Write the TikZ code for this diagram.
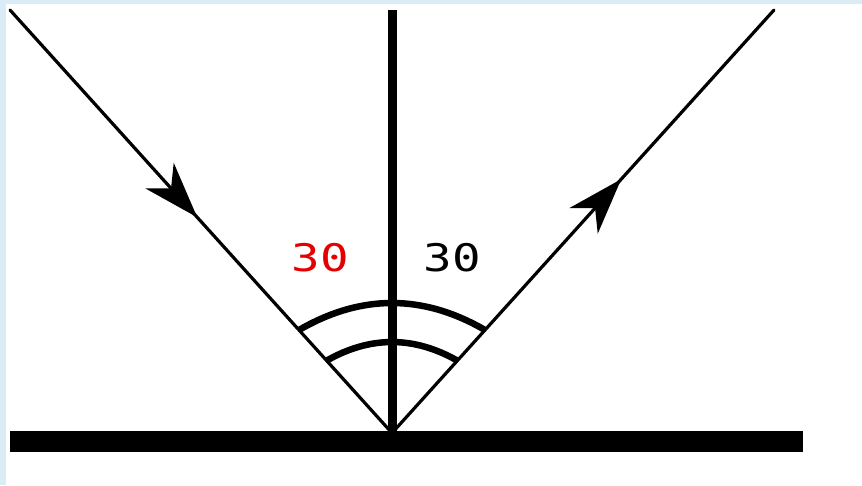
\documentclass[tikz,border=0pt]{standalone}
\usepackage{fontspec}
\newfontfamily\monofont{DejaVu Sans Mono}
\usetikzlibrary{arrows.meta,decorations.markings}
\definecolor{bgblue}{RGB}{218,237,246}
\definecolor{lblred}{RGB}{228,0,0}
\tikzset{
  ray/.style={line width=3.2pt, line cap=round},
  rayarrow/.style={postaction={decorate}, decoration={markings,
     mark=at position #1 with {\arrow{Stealth[length=56pt,width=38pt,inset=17pt]}}}},
  anglearc/.style={line width=6.5pt},
  lbl/.style={inner sep=0pt, font=\monofont\fontsize{38}{38}\selectfont}
}
\begin{document}
\begin{tikzpicture}[x=1pt,y=-1pt]
  \useasboundingbox (0,0) rectangle (862,485);
  \fill[bgblue] (0,0) rectangle (862,485);
  \fill[white] (6,4) rectangle (862,485);
  % coordinates
  \coordinate (S) at (10,10);
  \coordinate (O) at (392,433);
  \coordinate (E) at (774,10);
  \coordinate (Ntop) at (392,10);
  \coordinate (Nbot) at (392,436);
  \coordinate (Gl) at (10,441);
  \coordinate (Gr) at (803,441);
  % mirror
  \draw[line width=21pt] (Gl) -- (Gr);
  % normal
  \draw[line width=9pt] (Ntop) -- (Nbot);
  % rays
  \draw[ray, rayarrow=0.49] (S) -- (O);
  \draw[ray, rayarrow=0.60] (O) -- (E);
  % angle arcs
  \coordinate (A1) at (299,330);
  \coordinate (B1) at (485,330);
  \coordinate (A2) at (326,361);
  \coordinate (B2) at (458,361);
  \draw[anglearc] (A1) .. controls (361,294) and (423,294) .. (B1);
  \draw[anglearc] (A2) .. controls (370,335.7) and (414,335.7) .. (B2);
  % labels
  \node[lbl, text=lblred] (la) at (320.5,257.5) {\scalebox{1.25}[1]{30}};
  \node[lbl, text=black] (lb) at (452.5,257.5) {\scalebox{1.25}[1]{30}};
\end{tikzpicture}
\end{document}
